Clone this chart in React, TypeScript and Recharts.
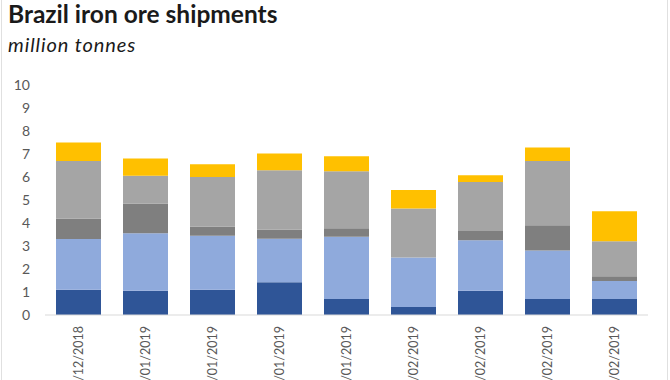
import React from "react";
import { BarChart, Bar, XAxis, YAxis } from "recharts";

const dates = ["28/12/2018", "04/01/2019", "11/01/2019", "18/01/2019", "25/01/2019", "01/02/2019", "08/02/2019", "15/02/2019", "22/02/2019"];
const seriesA = [1.1, 1.05, 1.1, 1.42, 0.7, 0.35, 1.05, 0.7, 0.7];
const seriesB = [2.2, 2.5, 2.35, 1.9, 2.7, 2.15, 2.2, 2.1, 0.78];
const seriesC = [0.9, 1.3, 0.4, 0.4, 0.37, 0.0, 0.4, 1.1, 0.2];
const seriesD = [2.5, 1.2, 2.15, 2.57, 2.48, 2.13, 2.13, 2.8, 1.53];
const seriesE = [0.8, 0.75, 0.55, 0.73, 0.65, 0.8, 0.3, 0.58, 1.3];
const yTicks = [0, 1, 2, 3, 4, 5, 6, 7, 8, 9, 10];

const data = dates.map((d, i) => ({
  date: d,
  a: seriesA[i],
  b: seriesB[i],
  c: seriesC[i],
  d: seriesD[i],
  e: seriesE[i],
}));

const FONT = "Lato, 'Open Sans', sans-serif";

const XTick = (props: any) => {
  const { x, y, payload } = props;
  return (
    <text
      x={x}
      y={y}
      dy="0.35em"
      textAnchor="end"
      transform={`rotate(-90, ${x}, ${y})`}
      fontSize={12.5}
      fill="#595959"
      fontFamily={FONT}
    >
      {payload.value}
    </text>
  );
};

export default function App() {
  return (
    <div style={{ position: "absolute", left: 0, top: 0, width: 670, height: 380, background: "#fff", overflow: "hidden" }}>
      <BarChart
        width={670}
        height={380}
        data={data}
        margin={{ top: 85, right: 22, left: 0, bottom: 0 }}
        barSize={45}
      >
        <XAxis
          dataKey="date"
          height={65}
          interval={0}
          tickSize={0}
          tickMargin={11}
          tick={<XTick />}
          axisLine={{ stroke: "#d9d9d9", strokeWidth: 1 }}
          tickLine={false}
        />
        <YAxis
          width={45}
          domain={[0, 10]}
          ticks={yTicks}
          interval={0}
          tickSize={0}
          tickMargin={15}
          axisLine={false}
          tickLine={false}
          tick={{ fontSize: 14, fill: "#595959", fontFamily: FONT }}
        />
        <Bar dataKey="a" stackId="s" fill="#2F5597" isAnimationActive={false} />
        <Bar dataKey="b" stackId="s" fill="#8FAADC" isAnimationActive={false} />
        <Bar dataKey="c" stackId="s" fill="#7F7F7F" isAnimationActive={false} />
        <Bar dataKey="d" stackId="s" fill="#A5A5A5" isAnimationActive={false} />
        <Bar dataKey="e" stackId="s" fill="#FFC000" isAnimationActive={false} />
      </BarChart>
      <svg width={670} height={380} style={{ position: "absolute", left: 0, top: 0, pointerEvents: "none" }}>
        <text x={8} y={23} fontSize={24.5} fontWeight="bold" fill="#1a1a1a" fontFamily={FONT}>
          Brazil iron ore shipments
        </text>
        <text x={8} y={52} fontSize={20} fontStyle="italic" letterSpacing={0.9} fill="#1a1a1a" fontFamily={FONT}>
          million tonnes
        </text>
        <line x1={1.5} y1={0} x2={1.5} y2={380} stroke="#e0e0e0" />
        <line x1={667.5} y1={0} x2={667.5} y2={380} stroke="#e0e0e0" />
      </svg>
    </div>
  );
}
